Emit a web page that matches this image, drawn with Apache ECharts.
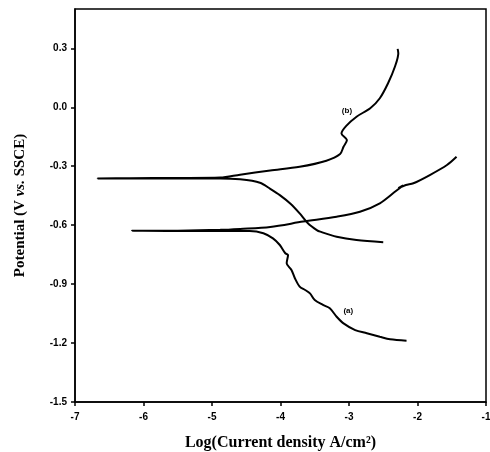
<!DOCTYPE html>
<html><head><meta charset="utf-8">
<script src="https://cdn.jsdelivr.net/npm/echarts@6/dist/echarts.min.js"></script>
<style>html,body{margin:0;padding:0;background:#fff}#c{width:490px;height:452px}</style>
</head><body><div id="c"></div>
<script>
// Curve (b): cathodic end -> corrosion point -> anodic end [logI, E]
const curveB = [
  [-2.50,-0.687],[-2.89,-0.676],[-3.18,-0.659],[-3.42,-0.633],[-3.47,-0.625],[-3.60,-0.590],
  [-3.72,-0.540],[-3.85,-0.492],[-4.01,-0.447],[-4.15,-0.415],[-4.30,-0.384],[-4.59,-0.367],
  [-4.88,-0.362],[-5.5,-0.363],[-6.2,-0.363],[-6.67,-0.362],
  [-6.2,-0.361],[-5.5,-0.360],[-4.88,-0.358],[-4.59,-0.343],[-4.15,-0.322],[-3.72,-0.303],
  [-3.33,-0.272],[-3.13,-0.238],[-3.08,-0.201],[-3.03,-0.167],[-3.11,-0.133],[-3.04,-0.095],
  [-2.89,-0.048],[-2.69,-0.005],[-2.55,0.046],[-2.43,0.122],[-2.33,0.206],[-2.28,0.275],[-2.29,0.297]
];
// Curve (a)
const curveA = [
  [-2.16,-1.188],[-2.40,-1.181],[-2.55,-1.168],[-2.74,-1.150],[-2.91,-1.134],[-3.08,-1.100],
  [-3.18,-1.066],[-3.28,-1.023],[-3.38,-1.006],[-3.50,-0.981],[-3.57,-0.947],[-3.64,-0.930],
  [-3.72,-0.913],[-3.79,-0.870],[-3.84,-0.828],[-3.91,-0.794],[-3.89,-0.752],[-3.93,-0.743],
  [-4.01,-0.701],[-4.11,-0.667],[-4.25,-0.641],[-4.45,-0.630],[-4.88,-0.630],[-5.5,-0.630],
  [-6.17,-0.629],
  [-5.5,-0.628],[-4.88,-0.624],[-4.59,-0.619],[-4.15,-0.609],[-3.67,-0.582],[-3.18,-0.557],
  [-2.84,-0.532],[-2.55,-0.489],[-2.31,-0.425],[-2.21,-0.398],[-2.28,-0.412],[-2.17,-0.396],
  [-2.06,-0.387],[-1.82,-0.345],[-1.57,-0.294],[-1.43,-0.252]
];
const labelsText = ['(b)','(a)'];
const labelsPos = [[-3.03,-0.02],[-3.01,-1.037]];
const xTicks = [-7,-6,-5,-4,-3,-2,-1];
const yTicks = [-1.5,-1.2,-0.9,-0.6,-0.3,0.0,0.3];

const chart = echarts.init(document.getElementById('c'), null, {renderer:'canvas'});
const tickFont = {fontFamily:'Liberation Sans, Arial', fontWeight:'bold', fontSize:10, color:'#000'};
const titleFont = 'Liberation Serif, Times New Roman';
chart.setOption({
  animation:false,
  grid:{left:75,top:9,right:4,bottom:50,containLabel:false,outerBoundsMode:'none',
    show:true,borderColor:'#000',borderWidth:1.5,backgroundColor:'transparent'},
  xAxis:{type:'value',min:xTicks[0],max:xTicks[xTicks.length-1],interval:1,
    axisLine:{onZero:false,lineStyle:{color:'#000',width:1.5}},
    axisTick:{show:true,length:4,lineStyle:{color:'#000',width:1.5}},
    axisLabel:Object.assign({margin:10,formatter:v=>String(v)},tickFont),
    splitLine:{show:false},
    name:'Log(Current density A/cm²)',nameLocation:'middle',nameGap:33,
    nameTextStyle:{fontFamily:titleFont,fontWeight:'bold',fontSize:16,color:'#000'}},
  yAxis:{type:'value',min:yTicks[0],max:0.5,interval:0.3,
    axisLine:{onZero:false,lineStyle:{color:'#000',width:1.5}},
    axisTick:{show:true,length:4,lineStyle:{color:'#000',width:1.5}},
    axisLabel:Object.assign({margin:8,showMaxLabel:false,formatter:v=>v.toFixed(1)},tickFont),
    splitLine:{show:false},
    name:'{a|Potential (V }{i|vs.}{a| SSCE)}',nameLocation:'middle',nameGap:47,nameRotate:90,
    nameTextStyle:{rich:{
      a:{fontFamily:titleFont,fontWeight:'bold',fontSize:15,color:'#000'},
      i:{fontFamily:titleFont,fontWeight:'bold',fontStyle:'italic',fontSize:15,color:'#000'}}}},
  series:[
    {type:'line',data:curveB,showSymbol:false,smooth:0.3,lineStyle:{color:'#000',width:2},z:3,
     markPoint:{symbol:'circle',symbolSize:0,data:[{coord:labelsPos[0],label:{show:true,formatter:labelsText[0],color:'#000',fontSize:8,fontWeight:'bold',fontFamily:'Liberation Sans, Arial'}}]}},
    {type:'line',data:curveA,showSymbol:false,smooth:0.3,lineStyle:{color:'#000',width:2},z:3,
     markPoint:{symbol:'circle',symbolSize:0,data:[{coord:labelsPos[1],label:{show:true,formatter:labelsText[1],color:'#000',fontSize:8,fontWeight:'bold',fontFamily:'Liberation Sans, Arial'}}]}}
  ]
});
</script></body></html>
